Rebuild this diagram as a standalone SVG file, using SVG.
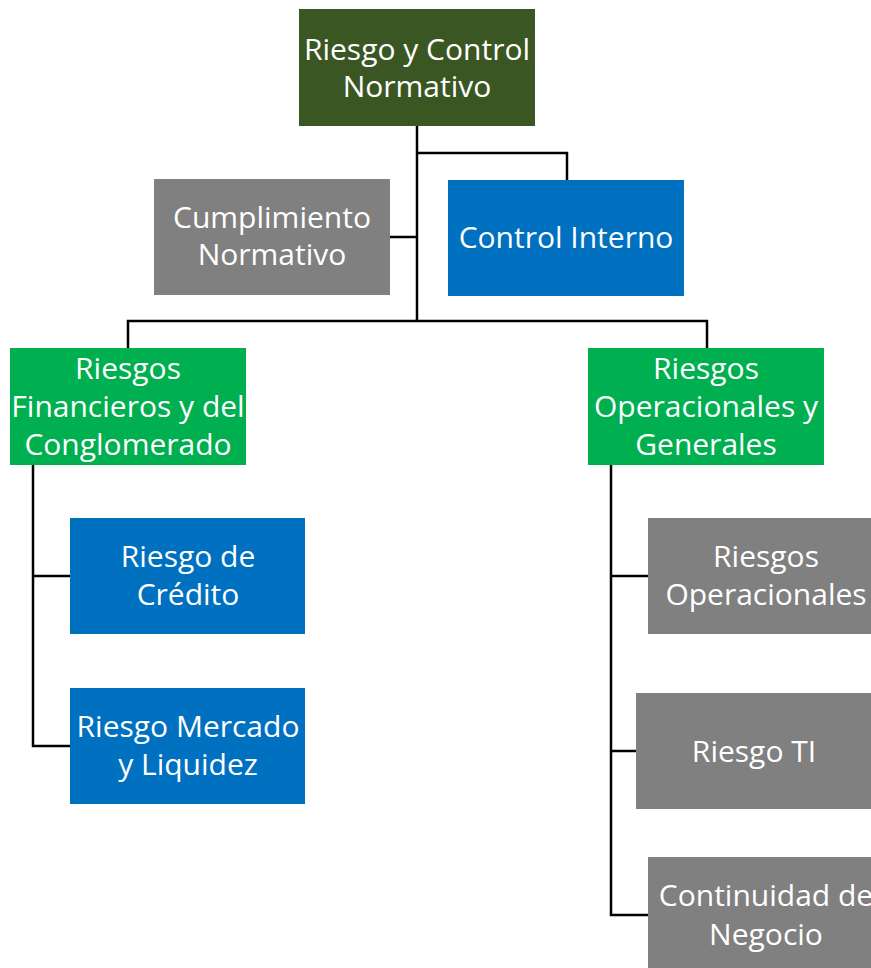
<svg xmlns="http://www.w3.org/2000/svg" width="871" height="968" viewBox="0 0 871 968">
<style>
text{font-family:"Open Sans","Noto Sans",sans-serif;font-size:30px;fill:#fff;text-anchor:middle}
.dg{fill:#3A5623}.gr{fill:#808080}.bl{fill:#0070C0}.gn{fill:#00B050}
.c{fill:none;stroke:#000;stroke-width:2.5}
</style>
<rect width="871" height="968" fill="#fff"/>
<g id="connectors">
<path class="c" d="M417,126V321M417,153H567V180M390,237H417M128,348V321H707V348"/>
<path class="c" d="M33,465V746H70M33,576H70"/>
<path class="c" d="M611,465V915H648M611,576H648M611,751H636"/>
</g>
<g id="root"><rect class="dg" x="299" y="9" width="236" height="117"/><text x="417" y="60">Riesgo y Control</text><text x="417" y="97">Normativo</text></g>
<g id="cumplimiento"><rect class="gr" x="154" y="179" width="236" height="116"/><text x="272" y="228">Cumplimiento</text><text x="272" y="265">Normativo</text></g>
<g id="control"><rect class="bl" x="448" y="180" width="236" height="116"/><text x="566" y="248">Control Interno</text></g>
<g id="financieros"><rect class="gn" x="10" y="348" width="236" height="117"/><text x="128" y="379">Riesgos</text><text x="128" y="417">Financieros y del</text><text x="128" y="455">Conglomerado</text></g>
<g id="operacionales-generales"><rect class="gn" x="588" y="348" width="236" height="117"/><text x="706" y="379">Riesgos</text><text x="706" y="417">Operacionales y</text><text x="706" y="455">Generales</text></g>
<g id="credito"><rect class="bl" x="70" y="518" width="235" height="116"/><text x="188" y="567">Riesgo de</text><text x="188" y="605">Crédito</text></g>
<g id="mercado"><rect class="bl" x="70" y="688" width="235" height="116"/><text x="188" y="737">Riesgo Mercado</text><text x="188" y="775">y Liquidez</text></g>
<g id="riesgos-operacionales"><rect class="gr" x="648" y="518" width="236" height="116"/><text x="766" y="567">Riesgos</text><text x="766" y="605">Operacionales</text></g>
<g id="ti"><rect class="gr" x="636" y="693" width="236" height="116"/><text x="754" y="762">Riesgo TI</text></g>
<g id="continuidad"><rect class="gr" x="648" y="857" width="236" height="116"/><text x="766" y="906">Continuidad de</text><text x="766" y="945">Negocio</text></g>
</svg>
